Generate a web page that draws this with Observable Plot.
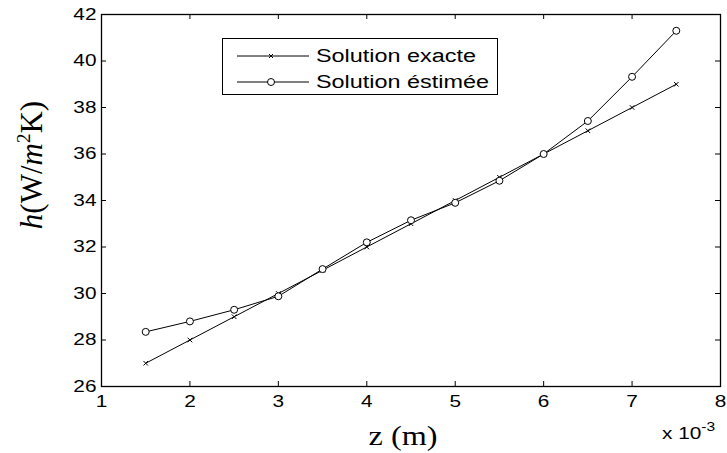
<!DOCTYPE html>
<html>
<head>
<meta charset="utf-8">
<script src="https://cdn.jsdelivr.net/npm/d3@7"></script>
<script src="https://cdn.jsdelivr.net/npm/@observablehq/plot@0.6"></script>
<style>
  body { margin: 0; background: white; }
  #wrap { position: relative; width: 727px; height: 453px; background: white; }
  #legend { position: absolute; left: 222px; top: 38px; width: 276px; height: 57px; border: 1px solid black; background: white; box-sizing: border-box; font-family: "Liberation Sans", Arial, sans-serif; font-size: 18px; }
  .row { position: absolute; left: 0; height: 20px; }
  .row svg { position: absolute; left: 14px; top: 0; }
  .row span { position: absolute; left: 93px; top: 0; line-height: 20px; white-space: nowrap; transform: scaleX(1.3); transform-origin: left center; }
  #ylabel { position: absolute; left: 32px; top: 165px; transform: translate(-50%, -50%) rotate(-90deg); font-family: "Liberation Serif", "Times New Roman", serif; font-size: 31px; white-space: nowrap; }
  #ylabel i { font-style: italic; }
  #ylabel sup { font-size: 19px; vertical-align: 12px; line-height: 0; }
  #xlabel { position: absolute; left: 403px; top: 436px; transform: translate(-50%, -50%) scaleX(1.15); font-family: "Liberation Serif", "Times New Roman", serif; font-size: 28px; white-space: nowrap; }
  #xexp { position: absolute; left: 662px; top: 425px; font-family: "Liberation Sans", Arial, sans-serif; font-size: 16px; white-space: nowrap; transform: scaleX(1.3); transform-origin: left center; }
  #xexp sup { font-size: 12px; vertical-align: 8px; line-height: 0; }
</style>
</head>
<body>
<div id="wrap"></div>
<script>
const z = [1.5, 2, 2.5, 3, 3.5, 4, 4.5, 5, 5.5, 6, 6.5, 7, 7.5];
const hExacte = [27, 28, 29, 30, 31, 32, 33, 34, 35, 36, 37, 38, 39];
const hEstimee = [28.35, 28.8, 29.3, 29.88, 31.05, 32.2, 33.15, 33.9, 34.85, 36.0, 37.42, 39.32, 41.3];
const xTicks = [1, 2, 3, 4, 5, 6, 7, 8];
const yTicks = [26, 28, 30, 32, 34, 36, 38, 40, 42];
const seriesNames = ["Solution exacte", "Solution éstimée"];

const exact = z.map((x, i) => ({x, y: hExacte[i]}));
const est = z.map((x, i) => ({x, y: hEstimee[i]}));

const W = 727, H = 453, mL = 101, mR = 7, mT = 14, mB = 67;
const innerW = W - mL - mR, innerH = H - mT - mB, tk = 5;

const chart = Plot.plot({
  width: W, height: H,
  marginLeft: mL, marginRight: mR, marginTop: mT, marginBottom: mB,
  x: {domain: [1, 8], label: null},
  y: {domain: [26, 42], label: null},
  style: {fontFamily: "'Liberation Sans', Arial, sans-serif", fontSize: "16px", color: "black", background: "white"},
  marks: [
    Plot.axisX(xTicks, {tickSize: 0, tickPadding: 9, label: null, tickFormat: d => String(d), fontSize: 16}),
    Plot.axisY(yTicks, {tickSize: 0, tickPadding: 5, label: null, tickFormat: d => String(d), fontSize: 16}),
    Plot.tickX(xTicks, {x: d => d, insetTop: innerH - tk, stroke: "black"}),
    Plot.tickX(xTicks, {x: d => d, insetBottom: innerH - tk, stroke: "black"}),
    Plot.tickY(yTicks, {y: d => d, insetRight: innerW - tk, stroke: "black"}),
    Plot.tickY(yTicks, {y: d => d, insetLeft: innerW - tk, stroke: "black"}),
    Plot.line(exact, {x: "x", y: "y", stroke: "black", strokeWidth: 1}),
    Plot.dot(exact, {x: "x", y: "y", symbol: "times", r: 2.2, stroke: "black", strokeWidth: 1}),
    Plot.line(est, {x: "x", y: "y", stroke: "black", strokeWidth: 1}),
    Plot.dot(est, {x: "x", y: "y", symbol: "circle", r: 3.5, stroke: "black", fill: "white", strokeWidth: 1}),
    Plot.frame({stroke: "black", strokeWidth: 1.3})
  ]
});

// widen tick-label glyphs horizontally, like the reference's stretched text
d3.select(chart).selectAll('g[aria-label="x-axis tick label"] text, g[aria-label="y-axis tick label"] text')
  .attr("transform", function() { return (this.getAttribute("transform") || "") + " scale(1.3,1)"; });

const wrap = document.getElementById("wrap");
wrap.appendChild(chart);

const legend = document.createElement("div");
legend.id = "legend";
const markerSvg = [
  '<svg width="72" height="20"><line x1="0" y1="10" x2="72" y2="10" stroke="black"/><path d="M32,8 L36,12 M36,8 L32,12" stroke="black"/></svg>',
  '<svg width="72" height="20"><line x1="0" y1="10" x2="72" y2="10" stroke="black"/><circle cx="34" cy="10" r="3.5" fill="white" stroke="black"/></svg>'
];
seriesNames.forEach((name, i) => {
  const row = document.createElement("div");
  row.className = "row";
  row.style.top = (7 + i * 26) + "px";
  row.innerHTML = markerSvg[i] + "<span></span>";
  row.querySelector("span").textContent = name;
  legend.appendChild(row);
});
wrap.appendChild(legend);

const yl = document.createElement("div");
yl.id = "ylabel";
yl.innerHTML = "<i>h</i>(W/<i>m</i><sup>2</sup>K)";
wrap.appendChild(yl);

const xl = document.createElement("div");
xl.id = "xlabel";
xl.textContent = "z (m)";
wrap.appendChild(xl);

const xe = document.createElement("div");
xe.id = "xexp";
xe.innerHTML = "x 10<sup>-3</sup>";
wrap.appendChild(xe);
</script>
</body>
</html>
